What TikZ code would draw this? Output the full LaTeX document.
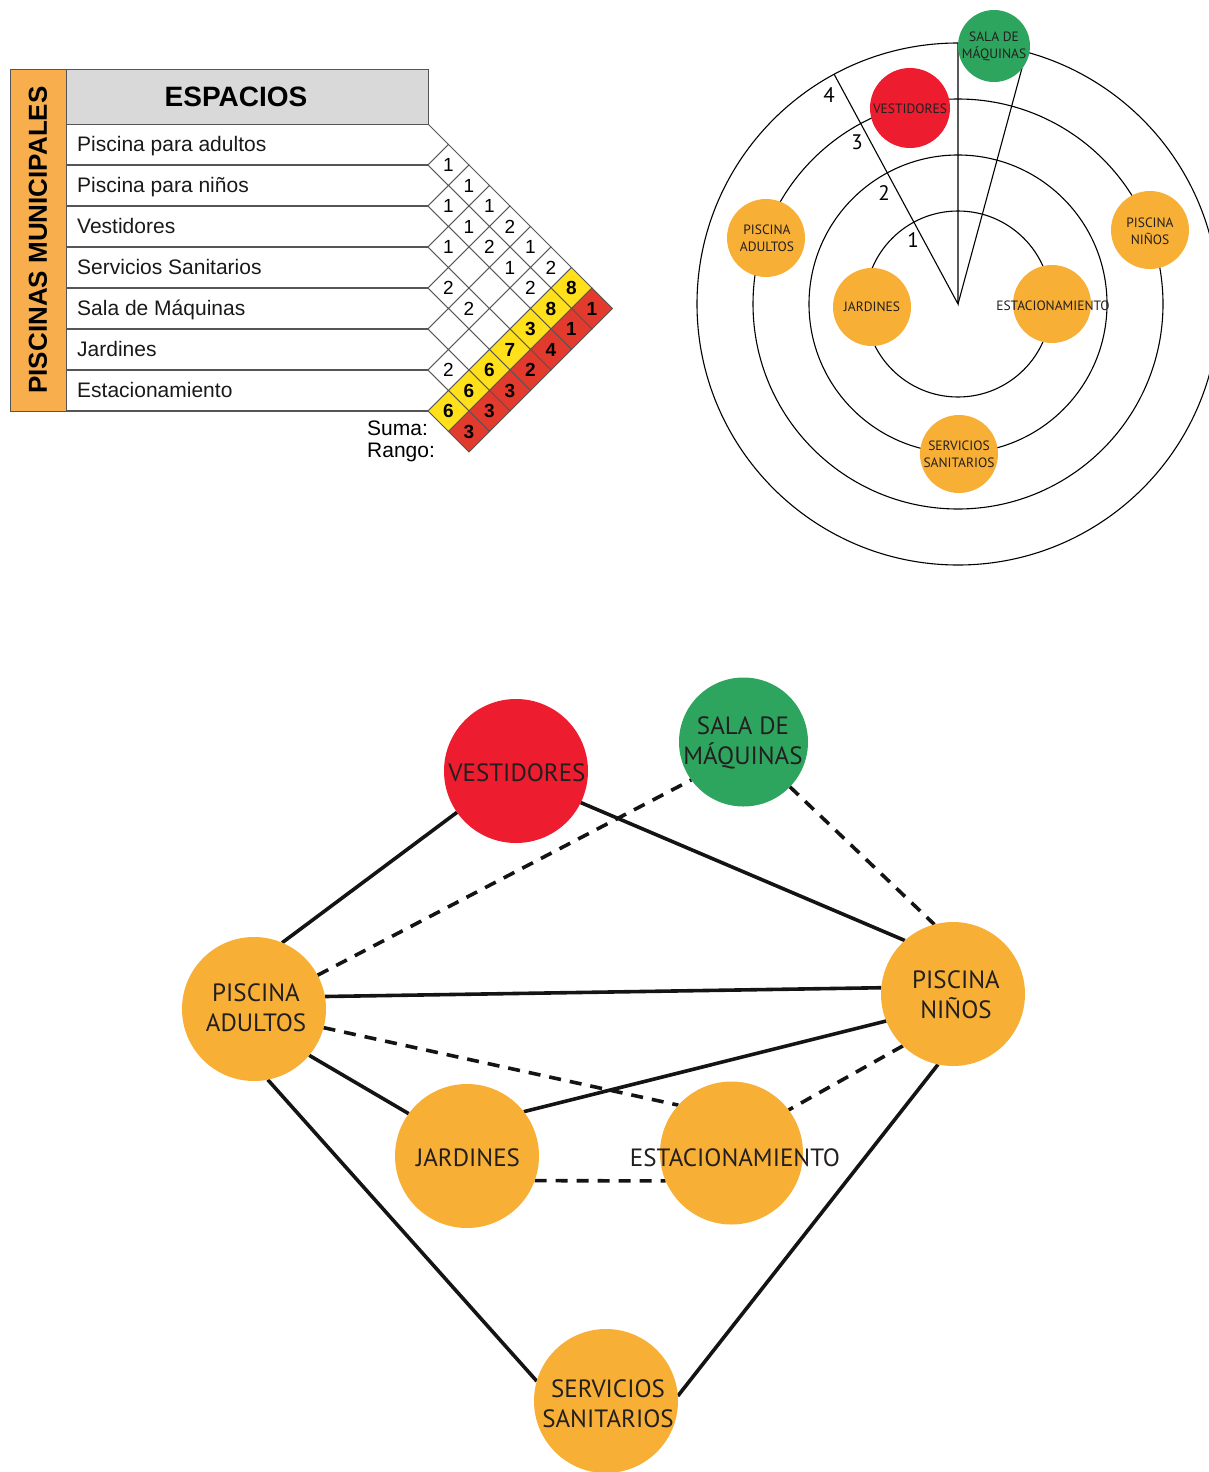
\documentclass[tikz,border=0pt]{standalone}
\usepackage{fontspec}
\setmainfont{Liberation Sans}
\newfontfamily\bubblefont{PT Sans}
\usetikzlibrary{shapes.geometric,backgrounds}
\definecolor{orangeA}{HTML}{F7AF35}
\definecolor{redA}{HTML}{ED1C2E}
\definecolor{greenA}{HTML}{2EA55E}
\definecolor{bandor}{HTML}{F8AE4C}
\definecolor{hdrgray}{HTML}{D9D9D9}
\definecolor{gridgray}{HTML}{555555}
\definecolor{sumyellow}{HTML}{FFE01B}
\definecolor{rankred}{HTML}{E23B2E}
\definecolor{txtdark}{HTML}{231F20}
\tikzset{
  cellbox/.style={diamond, draw=gridgray, line width=0.9pt, fill=white, minimum width=41pt, minimum height=41pt, inner sep=0pt, outer sep=0pt, font=\fontsize{19}{19}\selectfont},
  sumcell/.style={cellbox, fill=sumyellow, font=\bfseries\fontsize{19}{19}\selectfont},
  rankcell/.style={cellbox, fill=rankred, font=\bfseries\fontsize{19}{19}\selectfont},
  rowtxt/.style={anchor=base west, inner sep=0pt, font=\fontsize{21}{21}\selectfont, text=black!90},
  tline/.style={draw=gridgray, line width=1.1pt},
  ring/.style={draw=black, line width=1.1pt},
  smallbub/.style={circle, inner sep=0pt, outer sep=0pt, minimum size=78pt},
  smalltxt/.style={inner sep=0pt, align=center, text=txtdark, font=\bubblefont\fontsize{13.5}{17}\selectfont},
  ringnum/.style={inner sep=0pt, text=black, font=\bubblefont\fontsize{21}{21}\selectfont},
  bigbub/.style={circle, inner sep=0pt, outer sep=0pt, minimum size=144pt},
  bigtxt/.style={inner sep=0pt, align=center, text=txtdark, font=\bubblefont\fontsize{25}{30}\selectfont},
  link/.style={line width=3.6pt, draw=black!92},
  dlink/.style={link, dash pattern=on 12pt off 9pt},
}
\begin{document}
\begin{tikzpicture}[x=1pt,y=-1pt]
\useasboundingbox (0,0) rectangle (1209,1472);

% ---------------- matrix table ----------------
\node[draw=gridgray, line width=1.1pt, fill=bandor, minimum width=56pt, minimum height=342pt, inner sep=0pt, anchor=north west] (band) at (10,69) {};
\node[rotate=90, font=\bfseries\fontsize{26}{26}\selectfont] (bandtxt) at (38,240) {PISCINAS MUNICIPALES};
\node[draw=gridgray, line width=1.1pt, fill=hdrgray, minimum width=362pt, minimum height=55pt, inner sep=0pt, anchor=north west] (hdr) at (66,69) {};
\node[font=\bfseries\fontsize{28}{28}\selectfont] (hdrtxt) at (236,97) {ESPACIOS};
\foreach \k in {1,...,7} \draw[tline] (66,{124+\k*41}) -- (428,{124+\k*41});
\foreach \i/\t in {1/Piscina para adultos, 2/Piscina para niños, 3/Vestidores, 4/Servicios Sanitarios, 5/Sala de Máquinas, 6/Jardines, 7/Estacionamiento}
  \node[rowtxt] (row\i) at (77,{124+(\i-0.5)*41+7}) {\t};
% row tips
\foreach \i in {1,...,7}
  \draw[gridgray, line width=0.9pt] (428,{124+(\i-1)*41}) -- (448.5,{124+(\i-0.5)*41}) -- (428,{124+\i*41});
% numbered cells
\foreach \i/\j/\v in {1/2/1, 1/3/1, 1/4/1, 1/5/2, 1/6/1, 1/7/2, 2/3/1, 2/4/1, 2/5/2, 2/6/1, 2/7/2, 3/4/1, 4/5/2, 4/6/2, 6/7/2}
  \node[cellbox] (c\i\j) at ({428+(\j-\i)*20.5},{124+(\i+\j-1)*20.5}) {\v};
% empty cells
\foreach \i/\j in {3/5, 3/6, 3/7, 4/7, 5/6, 5/7}
  \node[cellbox] (c\i\j) at ({428+(\j-\i)*20.5},{124+(\i+\j-1)*20.5}) {};
% suma and rango
\foreach \i/\s/\r in {1/8/1, 2/8/1, 3/3/4, 4/7/2, 5/6/3, 6/6/3, 7/6/3}{
  \node[sumcell] (s\i) at ({428+(8-\i)*20.5},{124+(\i+7)*20.5}) {\s};
  \node[rankcell] (r\i) at ({428+(9-\i)*20.5},{124+(\i+8)*20.5}) {\r};
}
\node[anchor=west, inner sep=0pt, font=\fontsize{21}{21}\selectfont] (suma) at (367,428) {Suma:};
\node[anchor=west, inner sep=0pt, font=\fontsize{21}{21}\selectfont] (rango) at (367,452) {Rango:};

% ---------------- radial diagram ----------------
\coordinate (rc) at (958,304);
\coordinate (rl) at (834,74);
\coordinate (rv) at (958,43);
\coordinate (rs) at (1022,68);
\begin{scope}
  \clip (0,0) rectangle (1209,1472);
  \foreach \r in {93,149,205,261} \draw[ring] (rc) circle[radius=\r];
\end{scope}
\draw[ring] (rl) -- (rc) -- (rv);
\draw[ring] (rc) -- (rs);
\node[ringnum] (n1) at (913,240) {1};
\node[ringnum] (n2) at (884,193) {2};
\node[ringnum] (n3) at (857,142) {3};
\node[ringnum] (n4) at (829,95) {4};

\node[smallbub, fill=greenA, minimum size=72pt] (qsm) at (994,46) {};
\node[smalltxt] (qsmt) at (994,46) {SALA DE\\MÁQUINAS};
\node[smallbub, fill=redA, minimum size=80pt] (qv) at (910,108) {};
\node[smalltxt] (qvt) at (910,109) {VESTIDORES};
\node[smallbub, fill=orangeA] (qpa) at (766,238) {};
\node[smalltxt] (qpat) at (767,238) {PISCINA\\ADULTOS};
\node[smallbub, fill=orangeA] (qpn) at (1150,230) {};
\node[smalltxt] (qpnt) at (1150,231) {PISCINA\\NIÑOS};
\node[smallbub, fill=orangeA] (qj) at (872,307) {};
\node[smalltxt] (qjt) at (872,307) {JARDINES};
\node[smallbub, fill=orangeA] (qe) at (1052,304) {};
\node[smalltxt] (qet) at (1053,306) {ESTACIONAMIENTO};
\node[smallbub, fill=orangeA] (qs) at (959,454) {};
\node[smalltxt] (qst) at (959,454) {SERVICIOS\\SANITARIOS};

% ---------------- relation graph ----------------
\node[bigbub, fill=redA] (v) at (516,771) {};
\node[bigtxt] (vt) at (517,773) {VESTIDORES};
\node[bigbub, fill=greenA, minimum size=129pt] (sm) at (743.5,742) {};
\node[bigtxt] (smt) at (743,743) {SALA DE\\MÁQUINAS};
\node[bigbub, fill=orangeA] (pa) at (254,1009) {};
\node[bigtxt] (pat) at (256,1008) {PISCINA\\ADULTOS};
\node[bigbub, fill=orangeA] (pn) at (953,994) {};
\node[bigtxt] (pnt) at (956,995) {PISCINA\\NIÑOS};
\node[bigbub, fill=orangeA] (j) at (467,1156) {};
\node[bigtxt] (jt) at (468,1158) {JARDINES};
\node[bigbub, fill=orangeA, minimum size=143pt] (e) at (731.5,1153) {};
\node[bigtxt] (et) at (735,1158) {ESTACIONAMIENTO};
\node[bigbub, fill=orangeA] (s) at (606,1401) {};
\node[bigtxt] (st) at (608,1404) {SERVICIOS\\SANITARIOS};

\begin{scope}[on background layer]
  \draw[link] (pa.67) -- (v.215);
  \draw[link] (v.-26) -- (pn.132);
  \draw[link] (pa.10) -- (pn.175);
  \draw[link] (pa.-40) -- (j.144);
  \draw[link] (pa.-79) -- (s.164);
  \draw[link] (j.38) -- (pn.202);
  \draw[link] (pn.258) -- (s.4);
  \draw[dlink] (pa.28) -- (sm.216);
  \draw[dlink] (sm.-44) -- (pn.105);
  \draw[dlink] (pa.-15) -- (e.138);
  \draw[dlink] (pn.226) -- (e.37);
  \draw[dlink] (j.-20) -- (e.203);
\end{scope}
\end{tikzpicture}
\end{document}
